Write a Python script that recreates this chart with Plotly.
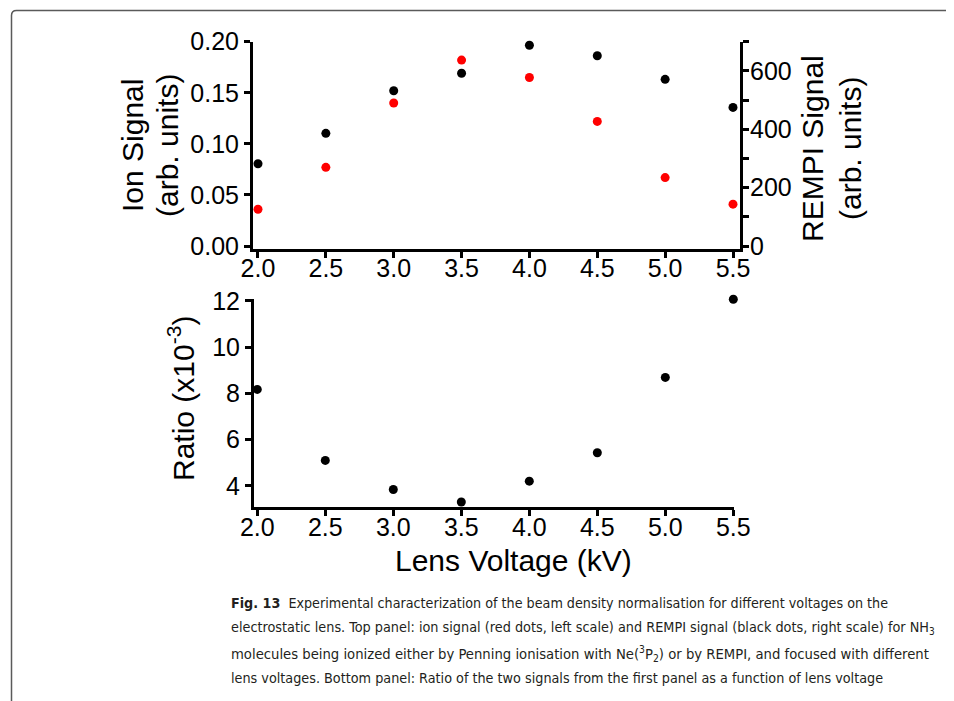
import plotly.graph_objects as go

# The page body has an 8 px margin: draw on a 946 x 693 figure and map
# reference pixel coordinates by subtracting that offset.
OFF = 8
W, H = 954 - OFF, 701 - OFF

# ---------------- data ----------------
lens_voltage = [2.0, 2.5, 3.0, 3.5, 4.0, 4.5, 5.0, 5.5]
ion_signal = [0.036, 0.077, 0.140, 0.182, 0.165, 0.122, 0.067, 0.041]
rempi_signal = [282, 386, 532, 592, 688, 652, 571, 475]
ratio = [8.17, 5.10, 3.84, 3.30, 4.20, 5.43, 8.69, 12.07]

x_ticks = [2.0, 2.5, 3.0, 3.5, 4.0, 4.5, 5.0, 5.5]
ion_ticks = [0.00, 0.05, 0.10, 0.15, 0.20]
rempi_ticks = [0, 200, 400, 600]
rempi_minor_step = 100
ratio_ticks = [4, 6, 8, 10, 12]

caption_lines = [
    "<b>Fig. 13</b>  Experimental characterization of the beam density normalisation for different voltages on the",
    "electrostatic lens. Top panel: ion signal (red dots, left scale) and REMPI signal (black dots, right scale) for NH<sub>3</sub>",
    "molecules being ionized either by Penning ionisation with Ne(<sup>3</sup>P<sub>2</sub>) or by REMPI, and focused with different",
    "lens voltages. Bottom panel: Ratio of the two signals from the first panel as a function of lens voltage",
]

FONT = "Liberation Sans, Arial, sans-serif"
CAP_FONT = "DejaVu Sans Condensed, DejaVu Sans, sans-serif"


def px(x):
    return (x - OFF) / W


def py(y):
    return 1 - (y - OFF) / H


fig = go.Figure()

fig.add_trace(go.Scatter(x=lens_voltage, y=ion_signal, mode="markers",
                         marker=dict(color="#ff0000", size=9), cliponaxis=False,
                         xaxis="x", yaxis="y", showlegend=False))
fig.add_trace(go.Scatter(x=lens_voltage, y=rempi_signal, mode="markers",
                         marker=dict(color="#000000", size=9), cliponaxis=False,
                         xaxis="x", yaxis="y2", showlegend=False))
fig.add_trace(go.Scatter(x=lens_voltage, y=ratio, mode="markers",
                         marker=dict(color="#000000", size=9), cliponaxis=False,
                         xaxis="x2", yaxis="y3", showlegend=False))

axis_common = dict(showline=True, linecolor="black", linewidth=3,
                   ticks="outside", ticklen=6, tickwidth=3, tickcolor="black",
                   showgrid=False, zeroline=False, automargin=False,
                   tickfont=dict(family=FONT, size=25, color="black"))

ion_bottom = -0.0029
fig.update_layout(
    template="none",
    width=W, height=H,
    margin=dict(l=0, r=0, t=0, b=0, pad=0),
    paper_bgcolor="white", plot_bgcolor="white",
    xaxis=dict(domain=[px(253), px(740)], range=[1.9632, 5.5516], anchor="y",
               tickvals=x_ticks, tickformat=".1f", ticklabelstandoff=-11, **axis_common),
    yaxis=dict(domain=[py(249), py(41.7)], range=[ion_bottom, 0.20], anchor="x",
               tickvals=ion_ticks, tickformat=".2f", **axis_common),
    yaxis2=dict(overlaying="y", side="right", anchor="x",
                range=[ion_bottom * 3500, 700], ticklabelstandoff=-4,
                tickvals=rempi_ticks,
                minor=dict(dtick=rempi_minor_step, tick0=0, ticks="outside", ticklen=6,
                           tickwidth=3, tickcolor="black", showgrid=False),
                **axis_common),
    xaxis2=dict(domain=[px(254), px(734)], range=[1.9757, 5.505], anchor="y3",
                tickvals=x_ticks, tickformat=".1f", ticklabelstandoff=-10, **axis_common),
    yaxis3=dict(domain=[py(507.3), py(298.8)], range=[3.07, 12.09], anchor="x2",
                tickvals=ratio_ticks, **axis_common),
)

ann = []
title_font = dict(family=FONT, size=30, color="black")
ann.append(dict(text="Ion Signal", x=px(132), y=py(146), textangle=-90, font=title_font))
ann.append(dict(text="(arb. units)", x=px(167), y=py(146), textangle=-90, font=title_font))
ann.append(dict(text="REMPI Signal", x=px(812), y=py(149), textangle=-90, font=title_font))
ann.append(dict(text="(arb. units)", x=px(850), y=py(149), textangle=-90, font=title_font))
ann.append(dict(text="Ratio (x10<sup>-3</sup>)", x=px(181), y=py(399), textangle=-90, font=title_font))
ann.append(dict(text="Lens Voltage (kV)", x=px(514), y=py(560), font=title_font))

cap_y = [603, 628, 653, 678]
cap_sizes = [14.2, 14.3, 14.7, 14.25]
for t, yy, s in zip(caption_lines, cap_y, cap_sizes):
    ann.append(dict(text=t, x=px(229), y=py(yy), xanchor="left", yanchor="middle",
                    font=dict(family=CAP_FONT, size=s, color="#231f20")))

for a in ann:
    a.setdefault("xanchor", "center")
    a.setdefault("yanchor", "middle")
    a.update(xref="paper", yref="paper", showarrow=False)
fig.update_layout(annotations=ann)

# frame around figure (rounded top-left corner)
r = 5
x0, y0 = 11.5, 10.5
path = (f"M {px(x0)},{py(720)} L {px(x0)},{py(y0 + r)} "
        f"Q {px(x0)},{py(y0)} {px(x0 + r)},{py(y0)} L {px(970)},{py(y0)}")
fig.update_layout(shapes=[dict(type="path", xref="paper", yref="paper", path=path,
                               line=dict(color="#5a5a5a", width=1.5))])

fig.write_html("out.html")
